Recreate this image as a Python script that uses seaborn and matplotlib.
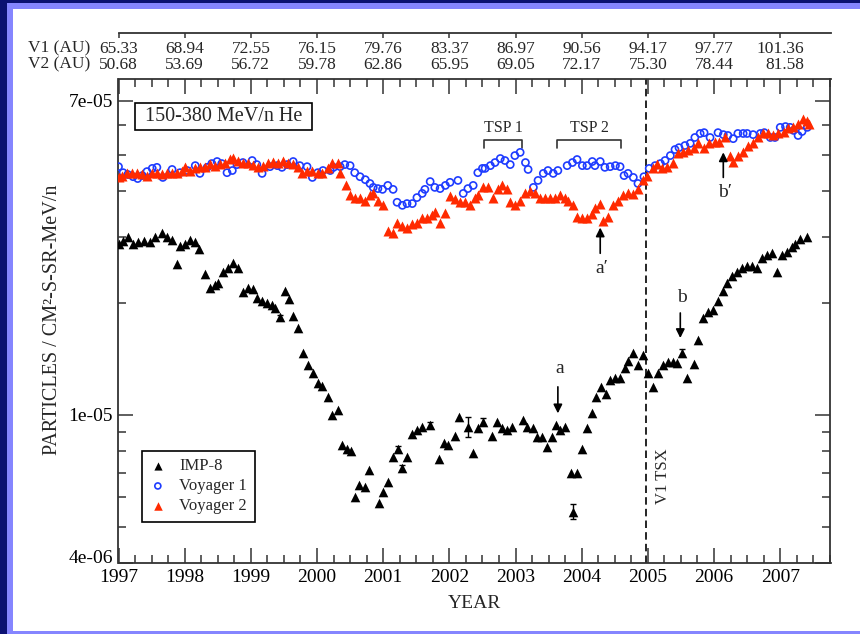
import numpy as np
import matplotlib
matplotlib.use("Agg")
import matplotlib.pyplot as plt
import seaborn as sns
from matplotlib.patches import Rectangle
from matplotlib.ticker import FixedLocator, FixedFormatter, NullFormatter

# ---------------- data (flux in units of 1e-5 particles / cm2-s-sr-MeV/n) ----------------
v1_year = [1997.00, 1997.07, 1997.14, 1997.22, 1997.29, 1997.36, 1997.43, 1997.51, 1997.58, 1997.67,
           1997.81, 1997.93, 1998.04, 1998.16, 1998.23, 1998.34, 1998.41, 1998.49, 1998.56, 1998.64,
           1998.72, 1998.79, 1998.88, 1999.02, 1999.09, 1999.17, 1999.29, 1999.40, 1999.47, 1999.55,
           1999.64, 1999.74, 1999.85, 1999.93, 2000.01, 2000.09, 2000.20, 2000.25, 2000.35, 2000.42,
           2000.50, 2000.57, 2000.65, 2000.73, 2000.80, 2000.85, 2000.92, 2000.99, 2001.07, 2001.15,
           2001.21, 2001.29, 2001.36, 2001.44, 2001.51, 2001.59, 2001.63, 2001.71, 2001.78, 2001.86,
           2001.94, 2002.01, 2002.13, 2002.21, 2002.28, 2002.36, 2002.43, 2002.50, 2002.54, 2002.62,
           2002.69, 2002.77, 2002.84, 2002.92, 2002.99, 2003.07, 2003.15, 2003.19, 2003.27, 2003.34,
           2003.42, 2003.49, 2003.57, 2003.64, 2003.78, 2003.86, 2003.93, 2004.01, 2004.08, 2004.16,
           2004.20, 2004.28, 2004.35, 2004.43, 2004.51, 2004.58, 2004.64, 2004.70, 2004.78, 2004.85,
           2004.94, 2005.02, 2005.11, 2005.19, 2005.26, 2005.34, 2005.41, 2005.47, 2005.56, 2005.64,
           2005.71, 2005.79, 2005.85, 2005.94, 2006.06, 2006.14, 2006.21, 2006.29, 2006.36, 2006.44,
           2006.50, 2006.59, 2006.70, 2006.76, 2006.85, 2006.92, 2007.00, 2007.08, 2007.15, 2007.20,
           2007.27, 2007.33, 2007.41]
v1_flux = [4.65, 4.48, 4.43, 4.37, 4.32, 4.40, 4.51, 4.60, 4.63, 4.35,
           4.57, 4.48, 4.54, 4.68, 4.46, 4.63, 4.74, 4.80, 4.74, 4.48,
           4.54, 4.71, 4.77, 4.83, 4.71, 4.46, 4.65, 4.68, 4.63, 4.71,
           4.80, 4.68, 4.65, 4.35, 4.48, 4.54, 4.54, 4.63, 4.65, 4.71,
           4.68, 4.48, 4.37, 4.29, 4.19, 4.09, 4.06, 4.04, 4.14, 4.04,
           3.73, 3.66, 3.70, 3.70, 3.84, 3.94, 4.04, 4.24, 4.09, 4.06,
           4.14, 4.22, 4.27, 3.94, 4.06, 4.14, 4.48, 4.60, 4.60, 4.68,
           4.77, 4.89, 4.83, 4.71, 4.98, 5.08, 4.77, 4.57, 4.09, 4.27,
           4.46, 4.54, 4.46, 4.54, 4.68, 4.77, 4.86, 4.68, 4.68, 4.80,
           4.68, 4.80, 4.63, 4.65, 4.68, 4.65, 4.40, 4.46, 4.35, 4.19,
           4.37, 4.60, 4.68, 4.74, 4.83, 4.98, 5.17, 5.23, 5.30, 5.37,
           5.57, 5.71, 5.74, 5.57, 5.74, 5.67, 5.64, 5.53, 5.71, 5.71,
           5.71, 5.67, 5.71, 5.74, 5.57, 5.57, 5.93, 5.96, 5.93, 5.82,
           5.64, 5.78, 5.93]

v2_year = [1997.00, 1997.05, 1997.13, 1997.20, 1997.28, 1997.36, 1997.43, 1997.51, 1997.58, 1997.66,
           1997.73, 1997.81, 1997.88, 1997.96, 1998.01, 1998.08, 1998.16, 1998.23, 1998.31, 1998.38,
           1998.46, 1998.53, 1998.61, 1998.69, 1998.73, 1998.81, 1998.88, 1998.96, 1999.03, 1999.11,
           1999.18, 1999.26, 1999.34, 1999.41, 1999.49, 1999.56, 1999.64, 1999.71, 1999.77, 1999.85,
           1999.93, 2000.01, 2000.08, 2000.16, 2000.23, 2000.31, 2000.35, 2000.44, 2000.50, 2000.57,
           2000.65, 2000.73, 2000.80, 2000.85, 2000.92, 2000.99, 2001.07, 2001.15, 2001.21, 2001.29,
           2001.36, 2001.44, 2001.51, 2001.59, 2001.66, 2001.74, 2001.78, 2001.86, 2001.94, 2002.01,
           2002.09, 2002.16, 2002.24, 2002.31, 2002.39, 2002.43, 2002.51, 2002.59, 2002.66, 2002.74,
           2002.80, 2002.87, 2002.92, 2002.99, 2003.07, 2003.15, 2003.22, 2003.30, 2003.37, 2003.45,
           2003.52, 2003.60, 2003.67, 2003.75, 2003.79, 2003.87, 2003.93, 2004.01, 2004.08, 2004.16,
           2004.20, 2004.28, 2004.32, 2004.40, 2004.48, 2004.55, 2004.63, 2004.70, 2004.78, 2004.85,
           2004.93, 2004.99, 2005.07, 2005.14, 2005.22, 2005.29, 2005.38, 2005.46, 2005.53, 2005.61,
           2005.69, 2005.76, 2005.85, 2005.93, 2006.02, 2006.08, 2006.17, 2006.24, 2006.29, 2006.36,
           2006.44, 2006.51, 2006.59, 2006.67, 2006.74, 2006.82, 2006.89, 2006.97, 2007.05, 2007.12,
           2007.20, 2007.27, 2007.35, 2007.41, 2007.44]
v2_flux = [4.35, 4.40, 4.46, 4.46, 4.46, 4.43, 4.40, 4.46, 4.48, 4.43,
           4.48, 4.46, 4.48, 4.54, 4.63, 4.54, 4.60, 4.65, 4.63, 4.74,
           4.68, 4.74, 4.77, 4.89, 4.92, 4.83, 4.77, 4.77, 4.71, 4.63,
           4.68, 4.77, 4.80, 4.77, 4.83, 4.77, 4.74, 4.63, 4.46, 4.54,
           4.54, 4.46, 4.48, 4.60, 4.77, 4.77, 4.46, 4.14, 3.89, 3.84,
           3.82, 3.77, 3.89, 3.96, 3.77, 3.66, 3.13, 3.08, 3.29, 3.23,
           3.19, 3.27, 3.29, 3.38, 3.38, 3.44, 3.52, 3.29, 3.50, 3.87,
           3.80, 3.73, 3.73, 3.66, 3.82, 3.89, 4.09, 4.09, 3.84, 4.06,
           4.14, 4.04, 3.73, 3.66, 3.77, 3.96, 4.01, 3.96, 3.84, 3.84,
           3.82, 3.82, 3.89, 3.82, 3.77, 3.66, 3.40, 3.38, 3.38, 3.46,
           3.61, 3.70, 3.33, 3.40, 3.66, 3.77, 3.89, 3.94, 3.92, 4.04,
           4.29, 4.40, 4.60, 4.74, 4.60, 4.63, 4.77, 5.05, 5.08, 5.14,
           5.23, 5.37, 5.23, 5.40, 5.43, 5.43, 5.57, 4.98, 4.80, 4.98,
           5.08, 5.30, 5.40, 5.57, 5.71, 5.71, 5.64, 5.71, 5.78, 5.89,
           5.93, 6.07, 6.26, 6.18, 6.04]

imp8_year = [1997.00, 1997.07, 1997.14, 1997.22, 1997.29, 1997.38, 1997.48, 1997.55, 1997.66, 1997.73,
             1997.81, 1997.88, 1997.93, 1998.01, 1998.08, 1998.16, 1998.22, 1998.31, 1998.38, 1998.46,
             1998.50, 1998.58, 1998.66, 1998.73, 1998.81, 1998.88, 1998.96, 1999.03, 1999.09, 1999.17,
             1999.24, 1999.32, 1999.37, 1999.44, 1999.52, 1999.58, 1999.64, 1999.71, 1999.79, 1999.86,
             1999.94, 2000.02, 2000.08, 2000.16, 2000.23, 2000.31, 2000.38, 2000.45, 2000.51, 2000.57,
             2000.64, 2000.73, 2000.79, 2000.93, 2001.00, 2001.08, 2001.15, 2001.22, 2001.29, 2001.36,
             2001.44, 2001.51, 2001.59, 2001.71, 2001.85, 2001.92, 2001.98, 2002.09, 2002.15, 2002.28,
             2002.36, 2002.43, 2002.51, 2002.65, 2002.72, 2002.80, 2002.87, 2002.95, 2003.12, 2003.18,
             2003.27, 2003.33, 2003.40, 2003.48, 2003.55, 2003.61, 2003.67, 2003.75, 2003.84, 2003.87,
             2003.93, 2004.01, 2004.08, 2004.16, 2004.22, 2004.29, 2004.37, 2004.43, 2004.51, 2004.58,
             2004.66, 2004.70, 2004.78, 2004.85, 2004.93, 2005.00, 2005.08, 2005.16, 2005.23, 2005.31,
             2005.38, 2005.44, 2005.52, 2005.59, 2005.69, 2005.76, 2005.84, 2005.91, 2005.99, 2006.06,
             2006.14, 2006.20, 2006.27, 2006.35, 2006.43, 2006.50, 2006.58, 2006.65, 2006.73, 2006.80,
             2006.88, 2006.95, 2007.02, 2007.11, 2007.18, 2007.23, 2007.30, 2007.41]
imp8_flux = [2.89, 2.93, 3.00, 2.89, 2.91, 2.93, 2.91, 3.00, 3.09, 3.00,
             2.96, 2.54, 2.84, 2.89, 2.95, 2.91, 2.80, 2.40, 2.20, 2.23,
             2.27, 2.42, 2.48, 2.56, 2.48, 2.14, 2.19, 2.18, 2.06, 2.03,
             2.00, 1.97, 1.94, 1.83, 2.15, 2.05, 1.84, 1.71, 1.47, 1.36,
             1.30, 1.22, 1.20, 1.12, 1.00, 1.03, 0.83, 0.81, 0.80, 0.60,
             0.65, 0.64, 0.71, 0.58, 0.62, 0.66, 0.77, 0.81, 0.72, 0.77,
             0.89, 0.91, 0.93, 0.94, 0.76, 0.84, 0.83, 0.88, 0.99, 0.93,
             0.79, 0.92, 0.96, 0.88, 0.96, 0.92, 0.91, 0.93, 0.97, 0.93,
             0.92, 0.87, 0.87, 0.82, 0.87, 0.94, 0.91, 0.93, 0.70, 0.55,
             0.70, 0.81, 0.92, 1.01, 1.12, 1.19, 1.14, 1.24, 1.26, 1.26,
             1.34, 1.40, 1.47, 1.36, 1.45, 1.30, 1.19, 1.30, 1.36, 1.39,
             1.39, 1.38, 1.47, 1.26, 1.37, 1.59, 1.82, 1.89, 1.91, 2.03,
             2.16, 2.27, 2.37, 2.42, 2.49, 2.52, 2.52, 2.49, 2.65, 2.69,
             2.72, 2.42, 2.69, 2.74, 2.82, 2.89, 2.98, 3.00]

# IMP-8 points carrying visible error bars
err_year = [1999.44, 2001.22, 2001.29, 2001.71, 2002.28, 2002.51, 2003.87, 2005.52]
err_flux = [1.83, 0.81, 0.72, 0.94, 0.93, 0.96, 0.55, 1.47]
err_size = [0.03, 0.015, 0.015, 0.02, 0.06, 0.02, 0.025, 0.03]

UNIT = 1e-5
year_ticks = list(range(1997, 2008))
v1_au = ["65.33", "68.94", "72.55", "76.15", "79.76", "83.37", "86.97", "90.56", "94.17", "97.77", "101.36"]
v2_au = ["50.68", "53.69", "56.72", "59.78", "62.86", "65.95", "69.05", "72.17", "75.30", "78.44", "81.58"]
y_major = [4e-6, 1e-5, 7e-5]
y_major_labels = ["4e-06", "1e-05", "7e-05"]
y_minor = [5e-6, 6e-6, 7e-6, 8e-6, 9e-6, 2e-5, 3e-5, 4e-5, 5e-5, 6e-5]
tsx_year = 2004.965

# ---------------- style ----------------
sns.set_style("ticks")
plt.rcParams["font.family"] = ["Liberation Serif", "DejaVu Serif"]
plt.rcParams["axes.linewidth"] = 1.3

W, H = 860, 634
fig = plt.figure(figsize=(W / 100, H / 100), dpi=100)

# slide-style border
navy, light = "#0b1172", "#8585ff"
fig.patch.set_facecolor(navy)
fig.patches.append(Rectangle((7 / W, 0), 1, (H - 3) / H, transform=fig.transFigure,
                             facecolor=light, edgecolor="none", zorder=-20))
fig.patches.append(Rectangle((13 / W, 3 / H), 1, (H - 12) / H, transform=fig.transFigure,
                             facecolor="white", edgecolor="none", zorder=-19))

L, R, B, T = 118.5, 830.5, 563, 79
ax = fig.add_axes([L / W, (H - B) / H, (R - L) / W, (B - T) / H])
ax.set_facecolor("white")

blue, red = "#1e3cff", "#ff2a00"

sns.scatterplot(x=np.array(v1_year), y=np.array(v1_flux) * UNIT, ax=ax, marker="o", s=26,
                facecolors="none", edgecolor=blue, linewidth=1.2, label="Voyager 1", zorder=3)
sns.scatterplot(x=np.array(v2_year), y=np.array(v2_flux) * UNIT, ax=ax, marker="^", s=52,
                color=red, edgecolor=red, linewidth=0, label="Voyager 2", zorder=4)
ax.errorbar(err_year, np.array(err_flux) * UNIT, yerr=np.array(err_size) * UNIT, fmt="none",
            ecolor="black", elinewidth=1.0, capsize=2.5, capthick=1.0, zorder=4)
sns.scatterplot(x=np.array(imp8_year), y=np.array(imp8_flux) * UNIT, ax=ax, marker="^", s=48,
                color="black", edgecolor="black", linewidth=0, label="IMP-8", zorder=5)

ax.set_yscale("log")
ax.set_xlim(1997, 2007.76)
ax.set_ylim(4e-6, 8e-5)

ax.yaxis.set_major_locator(FixedLocator(y_major))
ax.yaxis.set_major_formatter(FixedFormatter(y_major_labels))
ax.yaxis.set_minor_locator(FixedLocator(y_minor))
ax.yaxis.set_minor_formatter(NullFormatter())
ax.xaxis.set_major_locator(FixedLocator(year_ticks))
ax.xaxis.set_major_formatter(FixedFormatter([str(y) for y in year_ticks]))
ax.xaxis.set_minor_locator(FixedLocator([y + q for y in range(1997, 2008) for q in (0.25, 0.5, 0.75)]))

for s in ax.spines.values():
    s.set_color("#333333")
    s.set_linewidth(1.3)
ax.tick_params(which="both", direction="in", top=True, right=True, color="#333333", width=1.1,
               labelsize=14, labelcolor="black")
ax.tick_params(which="major", length=10.8, pad=4)
ax.tick_params(which="minor", length=5.6)

fig.canvas.draw()
ax.get_yticklabels()[0].set_va("baseline")

ax.set_xlabel("YEAR", fontsize=14)
ax.set_ylabel("PARTICLES / CM²-S-SR-MeV/n", fontsize=14.5)
ax.xaxis.set_label_coords(0.5, (B - 603) / (B - T))
ax.xaxis.label.set_va("center")
ax.yaxis.set_label_coords((53 - L) / (R - L), (B - 320) / (B - T))
ax.yaxis.label.set_va("center")

# V1 termination shock crossing
ax.axvline(tsx_year, color="black", lw=1.2, ls=(0, (4.5, 2.5)), zorder=2)
ax.text(2005.23, 0.685 * UNIT, "V1 TSX", rotation=90, fontsize=12, ha="center", va="center")

# energy label box
ax.add_patch(Rectangle(((135 - L) / (R - L), (B - 130) / (B - T)), (312 - 135) / (R - L),
                       27 / (B - T), transform=ax.transAxes, facecolor="white",
                       edgecolor="black", lw=1.2, zorder=6))
ax.text((223.5 - L) / (R - L), (B - 116.5) / (B - T), "150-380 MeV/n He", transform=ax.transAxes,
        fontsize=14.5, ha="center", va="center", zorder=7)

# TSP brackets
for x0, x1, lab in [(2002.52, 2003.10, "TSP 1"), (2003.63, 2004.60, "TSP 2")]:
    ax.plot([x0, x0, x1, x1], [5.23 * UNIT, 5.50 * UNIT, 5.50 * UNIT, 5.23 * UNIT],
            color="#333333", lw=1.2, zorder=2)
    ax.text((x0 + x1) / 2, 5.89 * UNIT, lab, fontsize=11.5, ha="center", va="center")

# arrows
arrows = [("a\u2032", 2004.28, 2.72, 3.19, 2.48),
          ("b\u2032", 2006.14, 4.35, 5.08, 3.96),
          ("a", 2003.64, 1.19, 1.01, 1.33),
          ("b", 2005.49, 1.88, 1.61, 2.07)]
for lab, xx, ytail, ytip, ylab in arrows:
    ax.annotate("", xy=(xx, ytip * UNIT), xytext=(xx, ytail * UNIT),
                arrowprops=dict(arrowstyle="-|>", color="black", lw=1.2, mutation_scale=13,
                                shrinkA=0, shrinkB=0), zorder=6)
    ax.text(xx + 0.02, ylab * UNIT, lab, fontsize=14, ha="center", va="center")

# legend
handles, labels = ax.get_legend_handles_labels()
order = [labels.index(n) for n in ["IMP-8", "Voyager 1", "Voyager 2"]]
leg = ax.legend([handles[i] for i in order], [labels[i] for i in order],
                loc="lower left", bbox_to_anchor=((142 - L) / (R - L), (B - 522) / (B - T)),
                borderaxespad=0, fontsize=12, frameon=True, fancybox=False, markerscale=0.85,
                handlelength=1.0, handletextpad=0.8, labelspacing=0.25, borderpad=0.45)
leg.get_frame().set_edgecolor("black")
leg.get_frame().set_linewidth(1.2)
leg.get_frame().set_alpha(1)

# top distance axis (V1 / V2 heliocentric distances)
ax2 = fig.add_axes([L / W, (H - 33) / H, (R - L) / W, 0.0005])
ax2.set_xlim(ax.get_xlim())
ax2.patch.set_visible(False)
for side in ["left", "right", "top"]:
    ax2.spines[side].set_visible(False)
ax2.spines["bottom"].set_color("#333333")
ax2.spines["bottom"].set_linewidth(1.3)
ax2.set_yticks([])
ax2.set_xticks(year_ticks)
ax2.set_xticklabels([f"{a}\n{b}" for a, b in zip(v1_au, v2_au)])
ax2.tick_params(axis="x", direction="out", length=3.6, width=1.1, color="#333333",
                labelsize=12.5, pad=2.5)
for lab in ax2.get_xticklabels():
    lab.set_linespacing(1.0)
    lab.set_multialignment("right")
fig.text(90 / W, (H - 40.5) / H, "V1 (AU)\nV2 (AU)", fontsize=12.5, ha="right", va="top",
         linespacing=1.0)

fig.savefig("out.png", dpi=100, facecolor=fig.get_facecolor())
